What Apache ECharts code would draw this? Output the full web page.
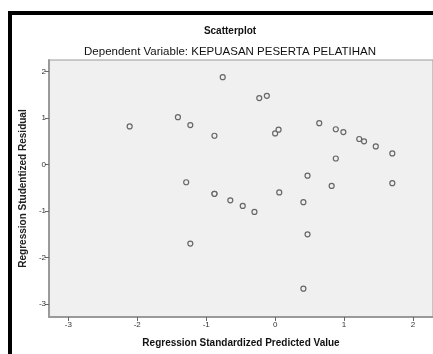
<!DOCTYPE html>
<html>
<head>
<meta charset="UTF-8">
<title>Scatterplot</title>
<script src="https://cdn.jsdelivr.net/npm/echarts@6/dist/echarts.min.js"></script>
<style>
  html, body { margin: 0; padding: 0; background: #fff; }
  #main { width: 433px; height: 354px; }
</style>
</head>
<body>
<div id="main"></div>
<script>
// predicted value (x) and studentized residual (y)
var predicted = [-0.76, -0.23, -0.12, -1.41, -2.11, -1.23, -0.88, -1.29, -0.88, -0.88,
  0.00, 0.05, 0.64, 0.88, 0.99, 1.22, 1.29, 1.46, 1.70, 0.88,
  0.47, 1.70, 0.82, -0.65, -0.47, -0.30, 0.06, 0.41, 0.47, -1.23, 0.41];
var residual = [1.88, 1.43, 1.48, 1.02, 0.82, 0.85, 0.62, -0.38, -0.63, -0.63,
  0.67, 0.75, 0.89, 0.76, 0.70, 0.55, 0.50, 0.39, 0.24, 0.13,
  -0.24, -0.40, -0.46, -0.77, -0.89, -1.02, -0.60, -0.81, -1.50, -1.70, -2.67];
var xTicks = [-3, -2, -1, 0, 1, 2];
var yTicks = [-3, -2, -1, 0, 1, 2];

var points = predicted.map(function (v, i) { return [v, residual[i]]; });

var myChart = echarts.init(document.getElementById('main'));
var axisCol = '#9a9a9a';
var font = 'Liberation Sans, Arial, sans-serif';
var labelFont = { color: '#333', fontSize: 8, fontFamily: font };

var option = {
  animation: false,
  backgroundColor: '#fff',
  title: [{
    text: 'Scatterplot',
    left: 225, top: 21, textAlign: 'center',
    textStyle: { fontSize: 10, fontWeight: 'bold', color: '#111', fontFamily: font }
  }, {
    text: 'Dependent Variable: KEPUASAN PESERTA PELATIHAN',
    left: 225, top: 41, textAlign: 'center',
    textStyle: { fontSize: 11.5, fontWeight: 'normal', color: '#111', fontFamily: font }
  }],
  graphic: [
    { type: 'rect', shape: { x: 8, y: 11, width: 425, height: 4 }, style: { fill: '#000' }, z: 100 },
    { type: 'rect', shape: { x: 8, y: 11, width: 4, height: 343 }, style: { fill: '#000' }, z: 100 }
  ],
  grid: {
    left: 49, right: -4, top: 60, bottom: 37,
    show: true, backgroundColor: '#f0f0f0',
    borderColor: axisCol, borderWidth: 1
  },
  xAxis: {
    type: 'value', min: -3.28, max: 2.29,
    name: 'Regression Standardized Predicted Value',
    nameLocation: 'middle', nameGap: 21,
    nameTextStyle: { fontSize: 10, fontWeight: 'bold', color: '#111', fontFamily: font },
    axisLine: { show: true, onZero: false, lineStyle: { color: axisCol, width: 2 } },
    axisTick: { show: true, length: 4, lineStyle: { color: '#666' }, customValues: xTicks },
    axisLabel: Object.assign({ margin: 4, customValues: xTicks }, labelFont),
    splitLine: { show: false }
  },
  yAxis: {
    type: 'value', min: -3.28, max: 2.25,
    name: 'Regression Studentized Residual',
    nameLocation: 'middle', nameGap: 10, nameRotate: 90,
    nameTextStyle: { fontSize: 10, fontWeight: 'bold', color: '#222', fontFamily: font },
    axisLine: { show: true, onZero: false, lineStyle: { color: axisCol, width: 2 } },
    axisTick: { show: true, length: 4, lineStyle: { color: '#666' }, customValues: yTicks },
    axisLabel: Object.assign({ margin: 3, customValues: yTicks }, labelFont),
    splitLine: { show: false }
  },
  series: [{
    type: 'scatter',
    data: points,
    symbol: 'circle',
    symbolSize: 5,
    itemStyle: { color: '#f0f0f0', borderColor: '#666', borderWidth: 1.2, opacity: 1 },
    emphasis: { disabled: true }
  }]
};
myChart.setOption(option);
</script>
</body>
</html>
